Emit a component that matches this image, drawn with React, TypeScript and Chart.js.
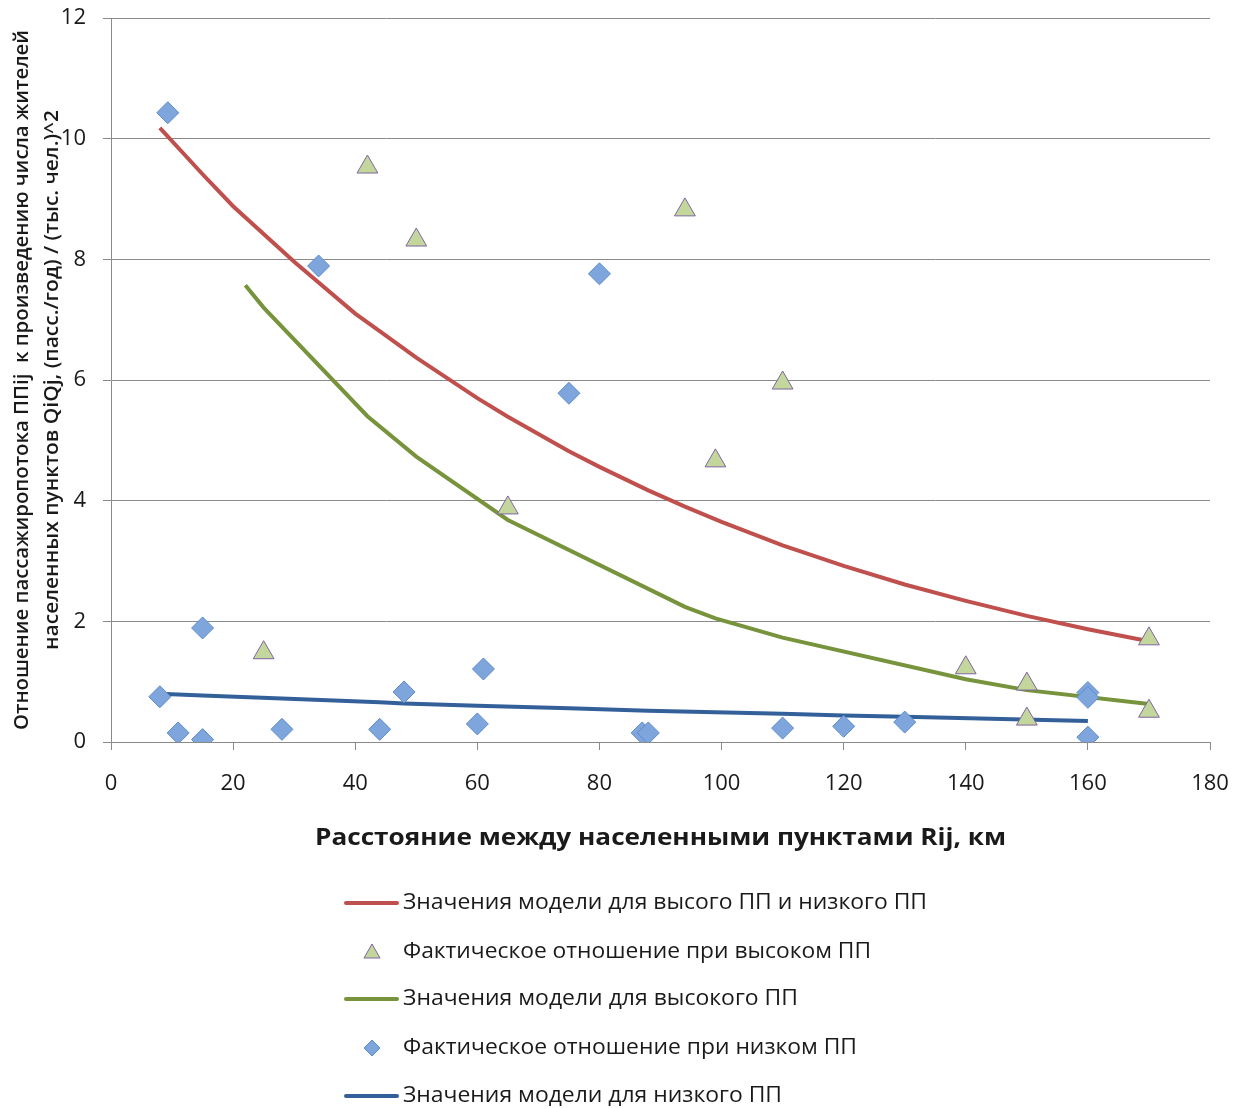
import React, { useEffect, useRef } from "react";
import { Chart, registerables } from "chart.js";

Chart.register(...registerables);

// ---- Data ----
const xTicks = [0, 20, 40, 60, 80, 100, 120, 140, 160, 180];
const yTicks = [0, 2, 4, 6, 8, 10, 12];

const modelBothX = [8, 15, 20, 30, 40, 44, 50, 60, 65, 75, 80, 88, 94, 100, 110, 120, 130, 140, 150, 160, 170];
const modelBothY = [10.18, 9.41, 8.88, 7.96, 7.1, 6.81, 6.37, 5.7, 5.39, 4.82, 4.56, 4.17, 3.9, 3.65, 3.26, 2.92, 2.61, 2.34, 2.09, 1.87, 1.67];

const highActualX = [25, 42, 50, 65, 94, 99, 110, 140, 150, 150, 170, 170];
const highActualY = [1.48, 9.53, 8.32, 3.88, 8.82, 4.66, 5.95, 1.23, 0.96, 0.38, 1.71, 0.51];

const modelHighX = [22, 25, 42, 50, 65, 94, 99, 110, 140, 150, 170];
const modelHighY = [7.57, 7.2, 5.4, 4.73, 3.68, 2.24, 2.05, 1.73, 1.04, 0.86, 0.63];

const lowActualX = [8, 9.3, 11, 15, 15, 28, 34, 44, 48, 60, 61, 75, 80, 87, 88, 110, 120, 130, 160, 160, 160];
const lowActualY = [0.75, 10.43, 0.15, 1.89, 0.04, 0.21, 7.89, 0.21, 0.83, 0.3, 1.21, 5.78, 7.76, 0.15, 0.15, 0.23, 0.26, 0.33, 0.82, 0.74, 0.08];

const modelLowX = [8, 15, 28, 44, 48, 60, 75, 88, 110, 120, 130, 160];
const modelLowY = [0.8, 0.77, 0.72, 0.66, 0.64, 0.6, 0.56, 0.52, 0.47, 0.44, 0.42, 0.35];

const labels = [
  "Значения модели для высого ПП и низкого ПП",
  "Фактическое отношение при высоком ПП",
  "Значения модели для высокого ПП",
  "Фактическое отношение при низком ПП",
  "Значения модели для низкого ПП",
];
const xTitle = "Расстояние между населенными пунктами Rij, км";
const yTitle = [
  "Отношение пассажиропотока ППij  к произведению числа жителей",
  "населенных пунктов QiQj, (пасс./год) / (тыс. чел.)^2",
];

const RED = "#C0504D";
const GREEN = "#77933C";
const BLUE = "#34609A";
const DIA_FILL = "#7EA6DC";
const DIA_BORDER = "#5E8BCB";
const TRI_FILL = "#C3D69B";
const TRI_BORDER = "#7F64A2";
const GRID = "#8A8A8A";
const TEXT = "#1a1a1a";

const toPts = (xs: number[], ys: number[]) => xs.map((x, i) => ({ x, y: ys[i] }));

function drawScaled(
  ctx: CanvasRenderingContext2D,
  text: string,
  x: number,
  y: number,
  font: string,
  target: number,
  align: "left" | "center",
  rotate = false
) {
  ctx.save();
  ctx.font = font;
  ctx.textBaseline = "middle";
  ctx.textAlign = "left";
  const w = ctx.measureText(text).width;
  const s = target / w;
  ctx.translate(x, y);
  if (rotate) ctx.rotate(-Math.PI / 2);
  ctx.scale(s, 1);
  ctx.fillText(text, align === "center" ? -w / 2 : 0, 0);
  ctx.restore();
}

const annotPlugin = {
  id: "annot",
  afterDraw(chart: any) {
    const ctx: CanvasRenderingContext2D = chart.ctx;
    const ca = chart.chartArea;
    ctx.save();
    ctx.fillStyle = TEXT;
    const cy = (ca.top + ca.bottom) / 2;
    // y-axis title (two rotated lines)
    drawScaled(ctx, yTitle[0], 22, cy, "600 20px 'Open Sans'", 700, "center", true);
    drawScaled(ctx, yTitle[1], 52, cy, "600 20px 'Open Sans'", 540, "center", true);
    // x-axis title
    const cx = (ca.left + ca.right) / 2;
    drawScaled(ctx, xTitle, cx, 838, "bold 24px 'Open Sans'", 691, "center");

    // legend
    const rows = [903, 952, 999, 1048, 1096];
    const widths = [524, 468, 395, 454, 379];
    const kinds = ["line", "tri", "line", "dia", "line"];
    const colors = [RED, null, GREEN, null, BLUE];
    rows.forEach((ry, i) => {
      if (kinds[i] === "line") {
        ctx.save();
        ctx.strokeStyle = colors[i] as string;
        ctx.lineWidth = 4;
        ctx.lineCap = "round";
        ctx.beginPath();
        ctx.moveTo(346, ry);
        ctx.lineTo(397, ry);
        ctx.stroke();
        ctx.restore();
      } else if (kinds[i] === "tri") {
        ctx.save();
        ctx.fillStyle = TRI_FILL;
        ctx.strokeStyle = TRI_BORDER;
        ctx.lineWidth = 1;
        ctx.beginPath();
        ctx.moveTo(372, ry - 8);
        ctx.lineTo(380, ry + 6);
        ctx.lineTo(364, ry + 6);
        ctx.closePath();
        ctx.fill();
        ctx.stroke();
        ctx.restore();
      } else {
        ctx.save();
        ctx.fillStyle = DIA_FILL;
        ctx.strokeStyle = DIA_BORDER;
        ctx.lineWidth = 1;
        ctx.beginPath();
        ctx.moveTo(372, ry - 8);
        ctx.lineTo(380, ry);
        ctx.lineTo(372, ry + 8);
        ctx.lineTo(364, ry);
        ctx.closePath();
        ctx.fill();
        ctx.stroke();
        ctx.restore();
      }
      ctx.fillStyle = TEXT;
      drawScaled(ctx, labels[i], 403, ry, "22px 'Open Sans'", widths[i], "left");
    });
    ctx.restore();
  },
};

export default function App() {
  const ref = useRef<HTMLCanvasElement | null>(null);
  useEffect(() => {
    if (!ref.current) return;
    const chart = new Chart(ref.current, {
      type: "scatter",
      data: {
        datasets: [
          {
            label: labels[0],
            data: toPts(modelBothX, modelBothY),
            showLine: true,
            borderColor: RED,
            backgroundColor: RED,
            borderWidth: 4,
            pointRadius: 0,
            tension: 0,
            order: 2,
          },
          {
            label: labels[1],
            data: toPts(highActualX, highActualY),
            pointStyle: "triangle",
            pointRadius: 12,
            backgroundColor: TRI_FILL,
            borderColor: TRI_BORDER,
            borderWidth: 1,
            order: 0,
          },
          {
            label: labels[2],
            data: toPts(modelHighX, modelHighY),
            showLine: true,
            borderColor: GREEN,
            backgroundColor: GREEN,
            borderWidth: 4,
            pointRadius: 0,
            tension: 0,
            order: 2,
          },
          {
            label: labels[3],
            data: toPts(lowActualX, lowActualY),
            pointStyle: "rectRot",
            pointRadius: 11,
            backgroundColor: DIA_FILL,
            borderColor: DIA_BORDER,
            borderWidth: 1,
            order: 1,
          },
          {
            label: labels[4],
            data: toPts(modelLowX, modelLowY),
            showLine: true,
            borderColor: BLUE,
            backgroundColor: BLUE,
            borderWidth: 4,
            pointRadius: 0,
            tension: 0,
            order: 2,
          },
        ],
      },
      options: {
        responsive: false,
        animation: false,
        layout: { padding: { left: 0, right: 35, top: 18, bottom: 0 } },
        plugins: {
          legend: { display: false },
          tooltip: { enabled: false },
          title: { display: false },
        },
        scales: {
          x: {
            type: "linear",
            min: 0,
            max: 180,
            afterBuildTicks: (scale: any) => {
              scale.ticks = xTicks.map((v) => ({ value: v }));
            },
            afterFit: (scale: any) => {
              scale.height = 1108 - 742;
              scale.paddingLeft = 0;
              scale.paddingRight = 0;
            },
            ticks: {
              font: { family: "'Open Sans'", size: 22 },
              color: TEXT,
              padding: 21,
              maxRotation: 0,
            },
            grid: {
              drawOnChartArea: false,
              drawTicks: true,
              tickLength: 8,
              color: GRID,
              lineWidth: 1,
            },
            border: { display: true, color: GRID, width: 1 },
          },
          y: {
            type: "linear",
            min: 0,
            max: 12,
            afterBuildTicks: (scale: any) => {
              scale.ticks = yTicks.map((v) => ({ value: v }));
            },
            afterFit: (scale: any) => {
              scale.width = 111;
              scale.paddingTop = 0;
              scale.paddingBottom = 0;
            },
            ticks: {
              font: { family: "'Open Sans'", size: 22 },
              color: TEXT,
              padding: 17,
            },
            grid: {
              drawOnChartArea: true,
              drawTicks: true,
              tickLength: 8,
              color: GRID,
              lineWidth: 1,
            },
            border: { display: true, color: GRID, width: 1 },
          },
        },
      },
      plugins: [annotPlugin],
    });
    return () => chart.destroy();
  }, []);
  return (
    <div style={{ position: "absolute", left: 0, top: 0, width: 1245, height: 1108, background: "#fff" }}>
      <canvas ref={ref} width={1245} height={1108} style={{ display: "block", width: 1245, height: 1108 }} />
    </div>
  );
}
